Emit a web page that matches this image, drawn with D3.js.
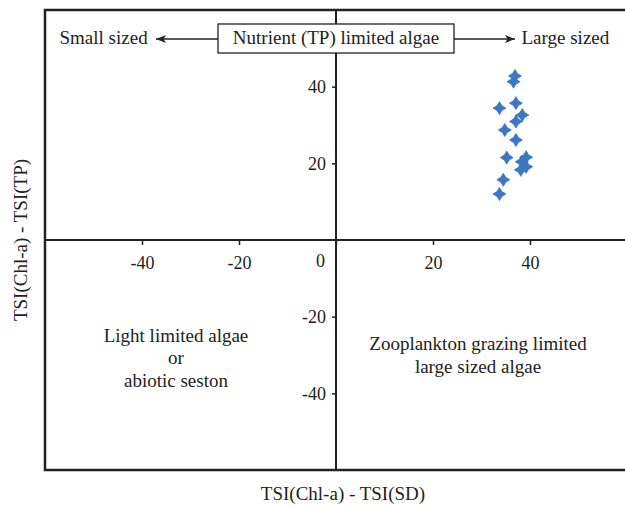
<!DOCTYPE html>
<html>
<head>
<meta charset="utf-8">
<script src="https://cdn.jsdelivr.net/npm/d3@7"></script>
<style>
body { margin:0; background:#fff; }
text { font-family:"Liberation Serif","Times New Roman",serif; fill:#222; }
</style>
</head>
<body>
<div id="chart"></div>
<script>
var width = 625,
height = 507;

// TSI(Chl-a) - TSI(SD)
var xVals = [36.9, 36.6, 33.7, 37.1, 38.4, 37.1, 34.8, 37.1, 35.2, 39.2, 38.3, 39.2, 38.1, 34.5, 33.7];
// TSI(Chl-a) - TSI(TP)
var yVals = [42.8, 41.3, 34.4, 35.7, 32.6, 30.9, 28.7, 26.1, 21.5, 21.6, 20.4, 19.1, 18.3, 15.7, 12.0];

var xTicks = [-40, -20, 0, 20, 40];
var yTicks = [-40, -20, 20, 40];

var topLeftText = "Small sized",
topBoxText = "Nutrient (TP) limited algae",
topRightText = "Large sized",
lowLeftLines = ["Light limited algae", "or", "abiotic seston"],
lowRightLines = ["Zooplankton grazing limited", "large sized algae"],
xTitle = "TSI(Chl-a) - TSI(SD)",
yTitle = "TSI(Chl-a) - TSI(TP)";

var x = d3.scaleLinear().domain([-60, 60]).range([45, 627]);
var y = d3.scaleLinear().domain([-60, 60]).range([470, 10]);

var svg = d3.select("#chart").append("svg")
	.attr("width", width)
	.attr("height", height);

var defs = svg.append("defs");
defs.append("marker")
	.attr("id", "head")
	.attr("viewBox", "0 0 10 8")
	.attr("refX", 10)
	.attr("refY", 4)
	.attr("markerWidth", 10)
	.attr("markerHeight", 8)
	.attr("markerUnits", "userSpaceOnUse")
	.attr("orient", "auto")
	.append("path")
	.attr("d", "M0,0 L10,4 L0,8 L2.5,4 Z")
	.attr("fill", "#222");

// frame
svg.append("rect")
	.attr("x", x(-60))
	.attr("y", y(60))
	.attr("width", x(60) - x(-60))
	.attr("height", y(-60) - y(60))
	.attr("fill", "none")
	.attr("stroke", "#222")
	.attr("stroke-width", 2.5);

// x axis through the origin
var xAxis = d3.axisBottom(x)
	.tickValues(xTicks)
	.tickSize(5)
	.tickPadding(11)
	.tickFormat(function(d){ return String(d); });

var gx = svg.append("g")
	.attr("transform", "translate(0," + y(0) + ")")
	.call(xAxis);
gx.select(".domain").remove();
gx.selectAll("line").attr("stroke", "#222").attr("stroke-width", 1.5);
gx.selectAll("text")
	.style("font-size", "18px")
	.style("font-family", "Liberation Serif")
	.attr("fill", "#222")
	.attr("x", function(d){ return d == 0 ? -16 : 0; })
	.attr("y", function(d){ return d == 0 ? 14 : 16; });

var yAxis = d3.axisLeft(y)
	.tickValues(yTicks)
	.tickSize(4)
	.tickPadding(6)
	.tickFormat(function(d){ return String(d); });

var gy = svg.append("g")
	.attr("transform", "translate(" + x(0) + ",0)")
	.call(yAxis);
gy.select(".domain").remove();
gy.selectAll("line").attr("stroke", "#222").attr("stroke-width", 1.5);
gy.selectAll("text")
	.style("font-size", "18px")
	.style("font-family", "Liberation Serif")
	.attr("fill", "#222");

svg.append("line")
	.attr("x1", x(-60)).attr("x2", x(60))
	.attr("y1", y(0)).attr("y2", y(0))
	.attr("stroke", "#222").attr("stroke-width", 2);
svg.append("line")
	.attr("x1", x(0)).attr("x2", x(0))
	.attr("y1", y(60)).attr("y2", y(-60))
	.attr("stroke", "#222").attr("stroke-width", 2);

// top annotation: box and arrows
var boxL = 218, boxR = 454, boxT = 24, boxB = 53, base = 44;
svg.append("rect")
	.attr("x", boxL).attr("y", boxT)
	.attr("width", boxR - boxL).attr("height", boxB - boxT)
	.attr("fill", "#fff").attr("stroke", "#222").attr("stroke-width", 1.3);
svg.append("text")
	.attr("x", (boxL + boxR) / 2).attr("y", base)
	.attr("text-anchor", "middle")
	.style("font-size", "19px")
	.text(topBoxText);

svg.append("line")
	.attr("x1", boxL).attr("x2", 156)
	.attr("y1", 39).attr("y2", 39)
	.attr("stroke", "#222").attr("stroke-width", 1.3)
	.attr("marker-end", "url(#head)");
svg.append("line")
	.attr("x1", boxR).attr("x2", 515)
	.attr("y1", 39).attr("y2", 39)
	.attr("stroke", "#222").attr("stroke-width", 1.3)
	.attr("marker-end", "url(#head)");

svg.append("text")
	.attr("x", 59.5).attr("y", base)
	.style("font-size", "19px")
	.text(topLeftText);
svg.append("text")
	.attr("x", 521.5).attr("y", base)
	.style("font-size", "19px")
	.text(topRightText);

// quadrant labels
svg.append("g").selectAll("text")
	.data(lowLeftLines)
	.enter().append("text")
	.attr("x", 176)
	.attr("y", function(d, i){ return 341.7 + i * 22.5; })
	.attr("text-anchor", "middle")
	.style("font-size", "19px")
	.text(function(d){ return d; });

svg.append("g").selectAll("text")
	.data(lowRightLines)
	.enter().append("text")
	.attr("x", 478)
	.attr("y", function(d, i){ return 350 + i * 23; })
	.attr("text-anchor", "middle")
	.style("font-size", "19px")
	.text(function(d){ return d; });

// axis titles
svg.append("text")
	.attr("x", 343).attr("y", 500)
	.attr("text-anchor", "middle")
	.style("font-size", "19px")
	.text(xTitle);
svg.append("text")
	.attr("transform", "translate(27," + y(0) + ") rotate(-90)")
	.attr("text-anchor", "middle")
	.style("font-size", "19px")
	.text(yTitle);

// points
function star(r){
	var k = r * 0.38;
	return "M0," + (-r) + "L" + k + "," + (-k) + "L" + r + ",0L" + k + "," + k +
		"L0," + r + "L" + (-k) + "," + k + "L" + (-r) + ",0L" + (-k) + "," + (-k) + "Z";
}

svg.append("g").selectAll("path")
	.data(xVals)
	.enter().append("path")
	.attr("d", star(6.5))
	.attr("transform", function(d, i){ return "translate(" + x(d) + "," + y(yVals[i]) + ")"; })
	.attr("fill", "#3b77c3")
	.attr("stroke", "#3b77c3")
	.attr("stroke-width", 0.8);
</script>
</body>
</html>
